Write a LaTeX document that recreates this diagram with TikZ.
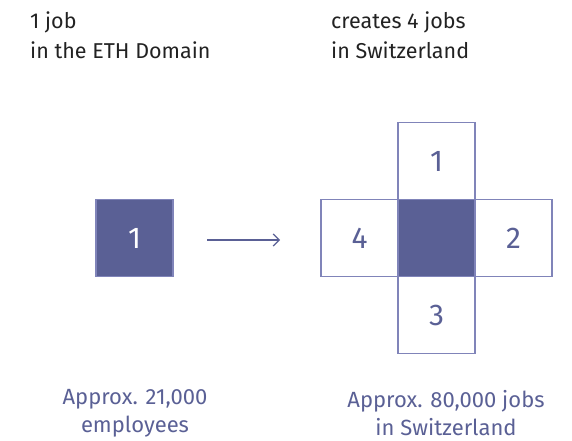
\documentclass[tikz,border=0pt]{standalone}
\usepackage{fontspec}
\setmainfont{Fira Sans}
\usetikzlibrary{arrows.meta}
\definecolor{ethblue}{RGB}{90,96,149}
\definecolor{ethline}{RGB}{128,132,185}
\definecolor{toptext}{RGB}{34,34,34}
\begin{document}
\begin{tikzpicture}[x=1pt,y=-1pt,
  sq/.style={minimum width=77pt,minimum height=77pt,inner sep=0pt,outer sep=0pt,draw=ethline,line width=1.3pt,text=ethblue,font=\fontsize{30}{32}\selectfont},
  darksq/.style={sq,fill=ethblue,text=white},
  toplab/.style={anchor=west,inner sep=0pt,align=left,text=toptext,font=\fontsize{21.5}{30}\selectfont},
  botlab/.style={align=center,inner sep=0pt,text=ethblue,font=\fontsize{22}{28}\selectfont}]
\useasboundingbox (0,0) rectangle (572,441);
\node[toplab] (t1) at (30,35) {1 job\\in the ETH Domain};
\node[toplab] (t2) at (331,35) {creates 4 jobs\\in Switzerland};
\node[darksq] (a) at (134.5,238) {1};
\node[darksq] (c) at (436.5,238) {};
\node[sq] (n1) at (436.5,161) {1};
\node[sq] (n2) at (513.5,238) {2};
\node[sq] (n3) at (436.5,315) {3};
\node[sq] (n4) at (359.5,238) {4};
\coordinate (s) at (207,240);
\coordinate (e) at (280,240);
\draw[ethblue,line width=1.2pt,-{Straight Barb[length=6pt,width=12pt]}] (s) -- (e);
\node[botlab] (b1) at (135,413) {Approx. 21,000\\employees};
\node[botlab] (b2) at (446,413) {Approx. 80,000 jobs\\in Switzerland};
\end{tikzpicture}
\end{document}
